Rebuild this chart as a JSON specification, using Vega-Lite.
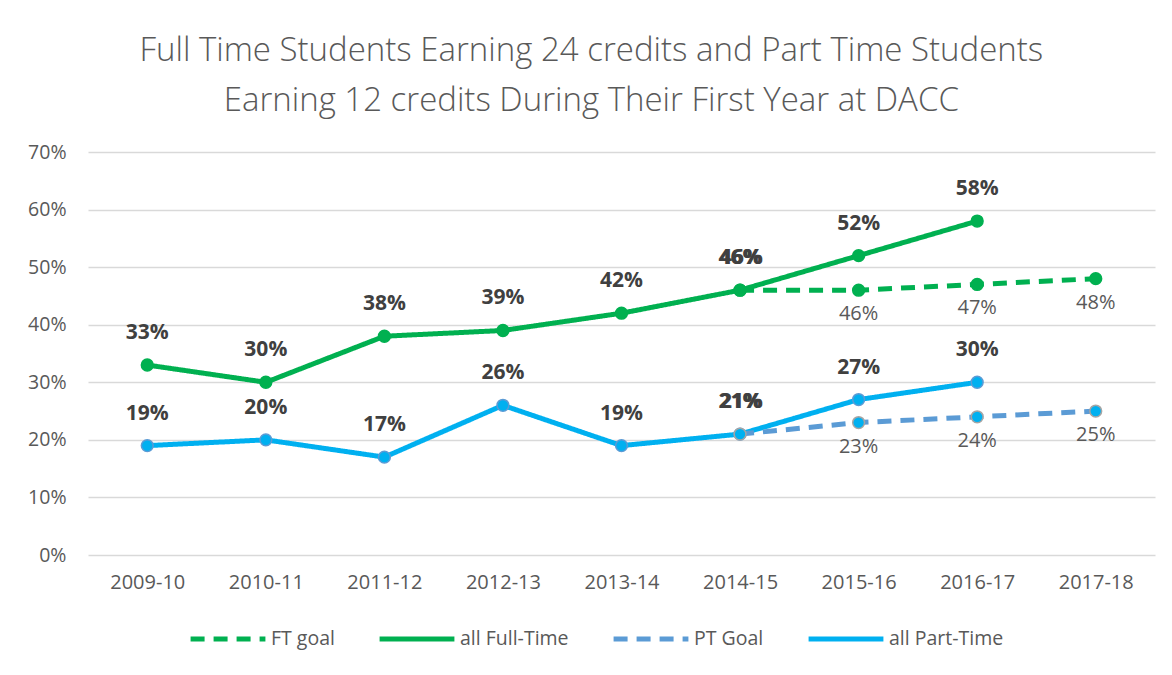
{
  "$schema": "https://vega.github.io/schema/vega-lite/v6.json",
  "width": 1067,
  "height": 403,
  "autosize": {"type": "none"},
  "padding": {"left": 88, "top": 152, "right": 17, "bottom": 120},
  "background": "white",
  "title": {
    "text": ["Full Time Students Earning 24 credits and Part Time Students", "Earning 12 credits During Their First Year at DACC"],
    "font": "Open Sans",
    "fontSize": 33,
    "fontWeight": 300,
    "color": "#595959",
    "lineHeight": 50,
    "anchor": "middle",
    "frame": "bounds",
    "offset": 24
  },
  "config": {
    "view": {"stroke": null},
    "font": "Open Sans"
  },
  "datasets": {
    "rows": [
      {"year": "2009-10", "series": "all Full-Time", "value": 0.33},
      {"year": "2010-11", "series": "all Full-Time", "value": 0.30},
      {"year": "2011-12", "series": "all Full-Time", "value": 0.38},
      {"year": "2012-13", "series": "all Full-Time", "value": 0.39},
      {"year": "2013-14", "series": "all Full-Time", "value": 0.42},
      {"year": "2014-15", "series": "all Full-Time", "value": 0.46},
      {"year": "2015-16", "series": "all Full-Time", "value": 0.52},
      {"year": "2016-17", "series": "all Full-Time", "value": 0.58},
      {"year": "2014-15", "series": "FT goal", "value": 0.46},
      {"year": "2015-16", "series": "FT goal", "value": 0.46},
      {"year": "2016-17", "series": "FT goal", "value": 0.47},
      {"year": "2017-18", "series": "FT goal", "value": 0.48},
      {"year": "2009-10", "series": "all Part-Time", "value": 0.19},
      {"year": "2010-11", "series": "all Part-Time", "value": 0.20},
      {"year": "2011-12", "series": "all Part-Time", "value": 0.17},
      {"year": "2012-13", "series": "all Part-Time", "value": 0.26},
      {"year": "2013-14", "series": "all Part-Time", "value": 0.19},
      {"year": "2014-15", "series": "all Part-Time", "value": 0.21},
      {"year": "2015-16", "series": "all Part-Time", "value": 0.27},
      {"year": "2016-17", "series": "all Part-Time", "value": 0.30},
      {"year": "2014-15", "series": "PT Goal", "value": 0.21},
      {"year": "2015-16", "series": "PT Goal", "value": 0.23},
      {"year": "2016-17", "series": "PT Goal", "value": 0.24},
      {"year": "2017-18", "series": "PT Goal", "value": 0.25}
    ]
  },
  "data": {"name": "rows"},
  "encoding": {
    "x": {
      "field": "year",
      "type": "ordinal",
      "sort": ["2009-10", "2010-11", "2011-12", "2012-13", "2013-14", "2014-15", "2015-16", "2016-17", "2017-18"],
      "scale": {"type": "point", "padding": 0.5},
      "axis": {
        "title": null,
        "labelAngle": 0,
        "domain": false,
        "ticks": false,
        "grid": false,
        "labelFontSize": 20,
        "labelColor": "#595959",
        "labelPadding": 17
      }
    },
    "y": {
      "field": "value",
      "type": "quantitative",
      "scale": {"domain": [0, 0.7], "nice": false},
      "axis": {
        "title": null,
        "values": [0, 0.1, 0.2, 0.3, 0.4, 0.5, 0.6, 0.7],
        "format": ".0%",
        "domain": false,
        "ticks": false,
        "gridColor": "#D9D9D9",
        "gridWidth": 1.5,
        "labelFontSize": 19.5,
        "labelColor": "#595959",
        "labelPadding": 22
      }
    }
  },
  "layer": [
    {
      "mark": {"type": "line", "strokeWidth": 5},
      "encoding": {
        "color": {
          "field": "series",
          "type": "nominal",
          "scale": {
            "domain": ["FT goal", "all Full-Time", "PT Goal", "all Part-Time"],
            "range": ["#00B050", "#00B050", "#5B9BD5", "#00B0F0"]
          },
          "legend": {
            "title": null,
            "orient": "none",
            "legendX": 100,
            "legendY": 447,
            "direction": "horizontal",
            "symbolType": "stroke",
            "symbolSize": 5600,
            "symbolStrokeWidth": 5,
            "labelFontSize": 19.5,
            "labelColor": "#595959",
            "labelOffset": 3,
            "columnPadding": 34
          }
        },
        "strokeDash": {
          "field": "series",
          "type": "nominal",
          "scale": {
            "domain": ["FT goal", "all Full-Time", "PT Goal", "all Part-Time"],
            "range": [[14, 9], [1, 0], [14, 9], [1, 0]]
          },
          "legend": {
            "title": null,
            "orient": "none",
            "legendX": 100,
            "legendY": 447,
            "direction": "horizontal",
            "symbolType": "stroke",
            "symbolSize": 5600,
            "symbolStrokeWidth": 5,
            "labelFontSize": 19.5,
            "labelColor": "#595959",
            "labelOffset": 3,
            "columnPadding": 34
          }
        }
      }
    },
    {
      "mark": {"type": "point", "filled": true, "size": 140, "strokeWidth": 1.5, "opacity": 1},
      "encoding": {
        "fill": {
          "field": "series",
          "type": "nominal",
          "scale": {
            "domain": ["FT goal", "all Full-Time", "PT Goal", "all Part-Time"],
            "range": ["#00B050", "#00B050", "#00B0F0", "#00B0F0"]
          },
          "legend": null
        },
        "stroke": {
          "field": "series",
          "type": "nominal",
          "scale": {
            "domain": ["FT goal", "all Full-Time", "PT Goal", "all Part-Time"],
            "range": ["#00B050", "#00B050", "#A5A5A5", "#5B9BD5"]
          },
          "legend": null
        }
      }
    },
    {
      "transform": [{"filter": "datum.series === 'all Full-Time' || datum.series === 'all Part-Time'"}],
      "mark": {"type": "text", "dy": -32, "fontSize": 21, "fontWeight": "bold", "color": "#404040"},
      "encoding": {"text": {"field": "value", "type": "quantitative", "format": ".0%"}}
    },
    {
      "transform": [{"filter": "(datum.series === 'FT goal' || datum.series === 'PT Goal') && datum.year !== '2014-15'"}],
      "mark": {"type": "text", "dy": 24, "fontSize": 20, "color": "#595959"},
      "encoding": {"text": {"field": "value", "type": "quantitative", "format": ".0%"}}
    },
    {
      "transform": [{"filter": "(datum.series === 'FT goal' || datum.series === 'PT Goal') && datum.year === '2014-15'"}],
      "mark": {"type": "text", "dy": -32, "dx": 1.5, "fontSize": 21, "fontWeight": "bold", "color": "#404040"},
      "encoding": {"text": {"field": "value", "type": "quantitative", "format": ".0%"}}
    }
  ]
}
